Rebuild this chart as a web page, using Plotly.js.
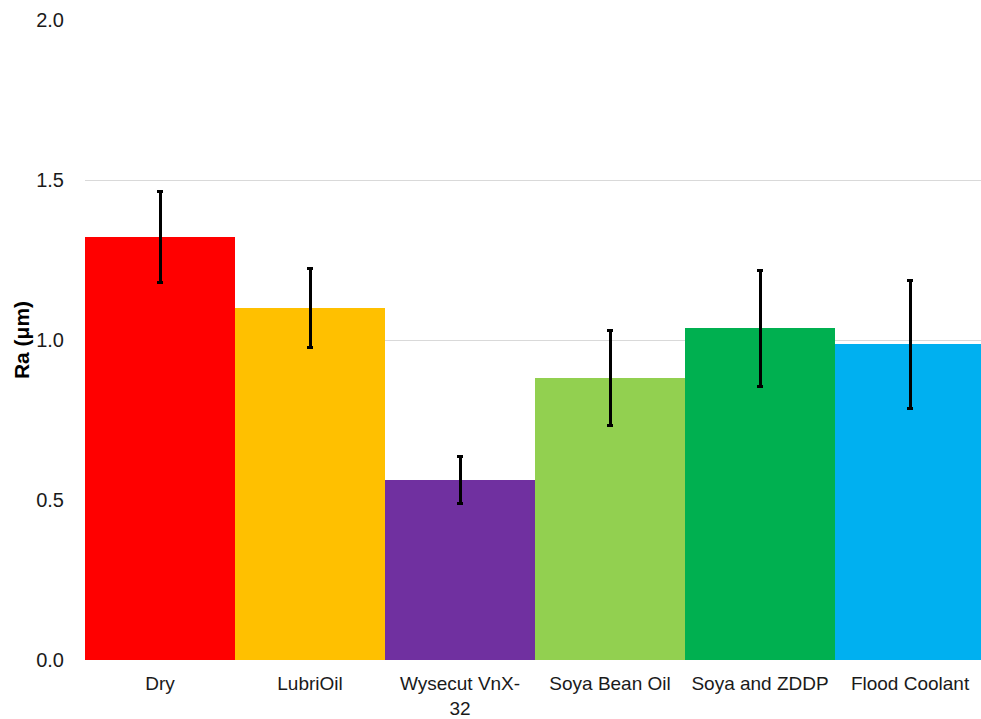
<!DOCTYPE html>
<html><head><meta charset="utf-8">
<script src="https://cdn.plot.ly/plotly-3.0.1.min.js"></script>
<style>html,body{margin:0;padding:0;background:#fff}#chart{width:981px;height:719px}</style>
</head><body><div id="chart"></div>
<script>
const categories = ["Dry", "LubriOil", "Wysecut VnX-<br>32", "Soya Bean Oil", "Soya and ZDDP", "Flood Coolant"];
const raValues = [1.322, 1.100, 0.563, 0.881, 1.037, 0.987];
const raErrors = [0.141, 0.124, 0.073, 0.148, 0.181, 0.200];
const barColors = ["#FF0000", "#FFC000", "#7030A0", "#92D050", "#00B050", "#00B0F0"];
const yTicks = [0, 0.5, 1.0, 1.5, 2.0];
const yTickText = ["0.0", "0.5", "1.0", "1.5", "2.0"];

const trace = {
  type: 'bar',
  x: categories,
  y: raValues,
  marker: {color: barColors, line: {width: 0}},
  error_y: {type: 'data', array: raErrors, visible: true, color: '#000000', thickness: 3, width: 3},
  hoverinfo: 'none'
};
const layout = {
  width: 981, height: 719,
  margin: {l: 85, r: 0, t: 20, b: 59},
  paper_bgcolor: '#ffffff', plot_bgcolor: '#ffffff',
  bargap: 0,
  showlegend: false,
  font: {family: 'Liberation Sans, Arial, sans-serif', size: 20, color: '#000000'},
  xaxis: {
    type: 'category', range: [-0.5, 5.473],
    showgrid: false, zeroline: false, showline: false,
    ticks: 'outside', ticklen: 6, tickcolor: 'rgba(0,0,0,0)',
    tickfont: {size: 19, color: '#1a1a1a'}
  },
  yaxis: {
    range: [0, 2.0], tickvals: yTicks, ticktext: yTickText,
    showgrid: true, gridcolor: '#d9d9d9', gridwidth: 1,
    zeroline: false, showline: false,
    ticks: 'outside', ticklen: 16, tickcolor: 'rgba(0,0,0,0)',
    tickfont: {size: 20, color: '#1a1a1a'},
    title: {text: '<b>Ra (μm)</b>', font: {size: 21, color: '#000000'}, standoff: 0}
  }
};
Plotly.newPlot('chart', [trace], layout, {staticPlot: true, displayModeBar: false});
</script></body></html>
